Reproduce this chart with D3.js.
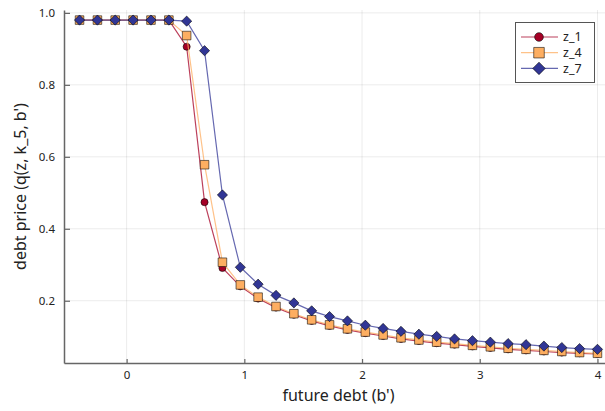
<!DOCTYPE html>
<html>
<head>
<meta charset="utf-8">
<script src="https://cdn.jsdelivr.net/npm/d3@7"></script>
<style>
  body { margin: 0; background: #fff; }
  text { font-family: "Noto Sans", "DejaVu Sans", sans-serif; fill: #222; }
</style>
</head>
<body>
<script>
// grid of future debt values
var debtGrid = [-0.4, -0.248, -0.097, 0.055, 0.207, 0.359, 0.510, 0.662, 0.814, 0.966,
                1.117, 1.269, 1.421, 1.572, 1.724, 1.876, 2.028, 2.179, 2.331, 2.483,
                2.634, 2.786, 2.938, 3.090, 3.241, 3.393, 3.545, 3.697, 3.848, 4.0];

var priceZ1 = [0.98, 0.98, 0.98, 0.98, 0.98, 0.98, 0.906, 0.474, 0.291, 0.240,
               0.206, 0.181, 0.161, 0.144, 0.130, 0.119, 0.110, 0.102, 0.094, 0.088,
               0.082, 0.078, 0.073, 0.069, 0.065, 0.062, 0.059, 0.056, 0.054, 0.052];
var priceZ4 = [0.98, 0.98, 0.98, 0.98, 0.98, 0.98, 0.937, 0.578, 0.307, 0.244,
               0.210, 0.184, 0.164, 0.147, 0.133, 0.122, 0.113, 0.105, 0.097, 0.091,
               0.085, 0.081, 0.076, 0.072, 0.068, 0.065, 0.062, 0.059, 0.056, 0.054];
var priceZ7 = [0.98, 0.98, 0.98, 0.98, 0.98, 0.98, 0.977, 0.895, 0.494, 0.293,
               0.246, 0.215, 0.194, 0.172, 0.156, 0.144, 0.132, 0.123, 0.115, 0.107,
               0.101, 0.094, 0.089, 0.085, 0.081, 0.078, 0.074, 0.070, 0.067, 0.065];

var seriesNames = ["z_1", "z_4", "z_7"];
var xTicks = [0, 1, 2, 3, 4];
var yTicks = [0.2, 0.4, 0.6, 0.8, 1.0];

var width = 605,
    height = 411,
    plotLeft = 64, plotRight = 613, plotTop = 10, plotBottom = 363;

var svg = d3.select("body").append("svg")
    .attr("width", width)
    .attr("height", height);

var x = d3.scaleLinear().domain([-0.532, 4.132]).range([plotLeft, plotRight]);
var y = d3.scaleLinear().domain([0.027, 1.008]).range([plotBottom, plotTop]);

// grid lines
svg.append("g").selectAll("line")
    .data(xTicks)
  .enter().append("line")
    .attr("x1", d => x(d)).attr("x2", d => x(d))
    .attr("y1", plotTop).attr("y2", plotBottom)
    .attr("stroke", "#000").attr("stroke-opacity", 0.08);

svg.append("g").selectAll("line")
    .data(yTicks)
  .enter().append("line")
    .attr("x1", plotLeft).attr("x2", plotRight)
    .attr("y1", d => y(d)).attr("y2", d => y(d))
    .attr("stroke", "#000").attr("stroke-opacity", 0.08);

// axes (ticks point inward like Plots.jl)
var xAxis = svg.append("g")
    .attr("transform", `translate(0,${plotBottom})`)
    .call(d3.axisBottom(x).tickValues(xTicks).tickSizeInner(-4).tickSizeOuter(0).tickPadding(8).tickFormat(d3.format("d")));
var yAxis = svg.append("g")
    .attr("transform", `translate(${plotLeft},0)`)
    .call(d3.axisLeft(y).tickValues(yTicks).tickSizeInner(-6).tickSizeOuter(0).tickPadding(9).tickFormat(d3.format(".1f")));

[xAxis, yAxis].forEach(function(ax) {
  ax.select(".domain").attr("stroke", "#666").attr("stroke-width", 1.5);
  ax.selectAll(".tick line").attr("stroke", "#666").attr("stroke-width", 1.2);
  ax.selectAll(".tick text").style("font-size", "11.5px").attr("fill", "#222")
    .style("font-family", "\"Noto Sans\", \"DejaVu Sans\", sans-serif");
});

// axis titles
svg.append("text")
    .attr("x", (plotLeft + plotRight) / 2)
    .attr("y", 401)
    .attr("text-anchor", "middle")
    .style("font-size", "16px")
    .text("future debt (b')");

svg.append("text")
    .attr("transform", `translate(26,${(plotTop + plotBottom) / 2}) rotate(-90)`)
    .attr("text-anchor", "middle")
    .style("font-size", "16px")
    .text("debt price (q(z, k_5, b')");

// square diamond like the GR marker (d3's own diamond is tall)
var squareDiamond = {
  draw: function(context, size) {
    var r = Math.sqrt(size / 2);
    context.moveTo(0, -r);
    context.lineTo(r, 0);
    context.lineTo(0, r);
    context.lineTo(-r, 0);
    context.closePath();
  }
};

// series
var colors = ["#a50026", "#fdae61", "#313695"];
var shapes = [d3.symbolCircle, d3.symbolSquare, squareDiamond];
var sizes = [40, 74, 52];
var allSeries = [priceZ1, priceZ4, priceZ7];

var line = d3.line()
    .x((d, i) => x(debtGrid[i]))
    .y(d => y(d));

var plot = svg.append("g");

allSeries.forEach(function(vals, s) {
  plot.append("path")
      .datum(vals)
      .attr("fill", "none")
      .attr("stroke", colors[s])
      .attr("stroke-opacity", 0.75)
      .attr("stroke-width", 1.2)
      .attr("d", line);

  plot.selectAll("path.m" + s)
      .data(vals)
    .enter().append("path")
      .attr("class", "m" + s)
      .attr("transform", (d, i) => `translate(${x(debtGrid[i])},${y(d)})`)
      .attr("d", d3.symbol().type(shapes[s]).size(sizes[s]))
      .attr("fill", colors[s])
      .attr("stroke", "#000")
      .attr("stroke-opacity", 0.55)
      .attr("stroke-width", 1);
});

// legend
var legend = svg.append("g");
legend.append("rect")
    .attr("x", 515.5).attr("y", 22.5)
    .attr("width", 79).attr("height", 60)
    .attr("fill", "#fff")
    .attr("stroke", "#555")
    .attr("stroke-width", 1);

seriesNames.forEach(function(name, s) {
  var ly = 37 + s * 15.7;
  legend.append("line")
      .attr("x1", 521).attr("x2", 558)
      .attr("y1", ly).attr("y2", ly)
      .attr("stroke", colors[s])
      .attr("stroke-opacity", 0.75)
      .attr("stroke-width", 1.2);
  legend.append("path")
      .attr("transform", `translate(539,${ly})`)
      .attr("d", d3.symbol().type(shapes[s]).size(sizes[s] * 1.5))
      .attr("fill", colors[s])
      .attr("stroke", "#000")
      .attr("stroke-opacity", 0.55);
  legend.append("text")
      .attr("x", 563)
      .attr("y", ly)
      .attr("dy", "0.35em")
      .style("font-size", "12.5px")
      .text(name);
});
</script>
</body>
</html>
